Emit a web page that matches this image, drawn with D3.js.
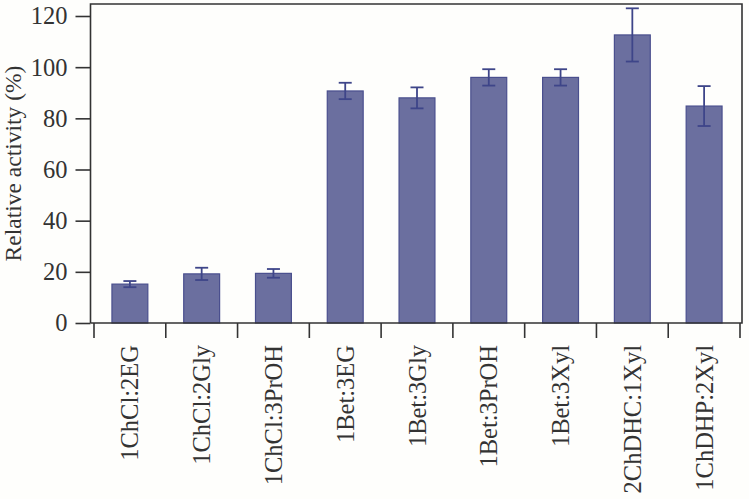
<!DOCTYPE html>
<html>
<head>
<meta charset="utf-8">
<script src="https://cdn.jsdelivr.net/npm/d3@7"></script>
<style>
  body { margin: 0; background: #fefefc; }
  svg { display: block; }
  .tick-text { font-family: "Liberation Serif", "Times New Roman", serif; font-size: 24.5px; fill: #333; }
  .axis-title { font-family: "Liberation Serif", "Times New Roman", serif; font-size: 23.5px; fill: #333; }
</style>
</head>
<body>
<div id="chart"></div>
<script>
const categories = ["1ChCl:2EG", "1ChCl:2Gly", "1ChCl:3PrOH", "1Bet:3EG", "1Bet:3Gly",
  "1Bet:3PrOH", "1Bet:3Xyl", "2ChDHC:1Xyl", "1ChDHP:2Xyl"];
const activity = [15.2, 19.2, 19.4, 90.7, 88.0, 96.0, 96.0, 112.6, 84.8];
const errors = [1.2, 2.4, 1.7, 3.2, 4.1, 3.2, 3.2, 10.4, 7.8];
const yTicks = [0, 20, 40, 60, 80, 100, 120];

const data = categories.map((c, i) => ({ name: c, value: activity[i], err: errors[i] }));

const width = 749;
const height = 499;
const frame = { left: 90.5, right: 742, top: 4, bottom: 323 };

const svg = d3.select("#chart")
  .append("svg")
  .attr("width", width)
  .attr("height", height);

const xScale = d3.scaleBand()
  .domain(categories)
  .range([94, 740])
  .paddingInner(0.5)
  .paddingOuter(0.25);

const yScale = d3.scaleLinear()
  .domain([0, 120])
  .range([323, 16]);

// bars
svg.selectAll("rect.bar")
  .data(data)
  .join("rect")
  .attr("class", "bar")
  .attr("x", d => xScale(d.name))
  .attr("y", d => yScale(d.value))
  .attr("width", xScale.bandwidth())
  .attr("height", d => yScale(0) - yScale(d.value))
  .attr("fill", "#6b6f9f")
  .attr("stroke", "#4a4f8e")
  .attr("stroke-width", 1.2);

// error bars
const cap = 6.5;
const eb = svg.append("g")
  .attr("stroke", "#3e4589")
  .attr("stroke-width", 1.8);

data.forEach(d => {
  const cx = xScale(d.name) + xScale.bandwidth() / 2;
  const top = yScale(d.value + d.err);
  const bot = yScale(d.value - d.err);
  eb.append("line").attr("x1", cx).attr("x2", cx).attr("y1", top).attr("y2", bot);
  eb.append("line").attr("x1", cx - cap).attr("x2", cx + cap).attr("y1", top).attr("y2", top);
  eb.append("line").attr("x1", cx - cap).attr("x2", cx + cap).attr("y1", bot).attr("y2", bot);
});

// frame
svg.append("path")
  .attr("d", `M${frame.left},${frame.bottom}V${frame.top}H${frame.right}V${frame.bottom}H${frame.left}`)
  .attr("fill", "none")
  .attr("stroke", "#333")
  .attr("stroke-width", 1.6);

// y axis
const yAxis = svg.append("g")
  .attr("transform", `translate(${frame.left},0)`)
  .call(d3.axisLeft(yScale).tickValues(yTicks).tickSize(15).tickPadding(8));
yAxis.select(".domain").remove();
yAxis.selectAll("line").attr("stroke", "#333").attr("stroke-width", 1.6);
yAxis.selectAll("text")
  .attr("class", "tick-text")
  .attr("fill", null);

// x ticks at band boundaries
const step = xScale.step();
const boundaries = categories.map(c => xScale(c) - (step - xScale.bandwidth()) / 2);
boundaries.push(xScale.range()[1]);
svg.selectAll("line.xtick")
  .data(boundaries)
  .join("line")
  .attr("class", "xtick")
  .attr("x1", d => d).attr("x2", d => d)
  .attr("y1", frame.bottom).attr("y2", frame.bottom + 15)
  .attr("stroke", "#333")
  .attr("stroke-width", 1.6);

// x labels
svg.selectAll("text.xlabel")
  .data(categories)
  .join("text")
  .attr("class", "tick-text")
  .attr("text-anchor", "end")
  .attr("dy", "0.35em")
  .attr("transform", d => `translate(${xScale(d) + xScale.bandwidth() / 2},345) rotate(-90)`)
  .text(d => d);

// y title
svg.append("text")
  .attr("class", "axis-title")
  .attr("text-anchor", "middle")
  .attr("transform", `translate(21,${(frame.top + frame.bottom) / 2}) rotate(-90)`)
  .text("Relative activity (%)");
</script>
</body>
</html>
